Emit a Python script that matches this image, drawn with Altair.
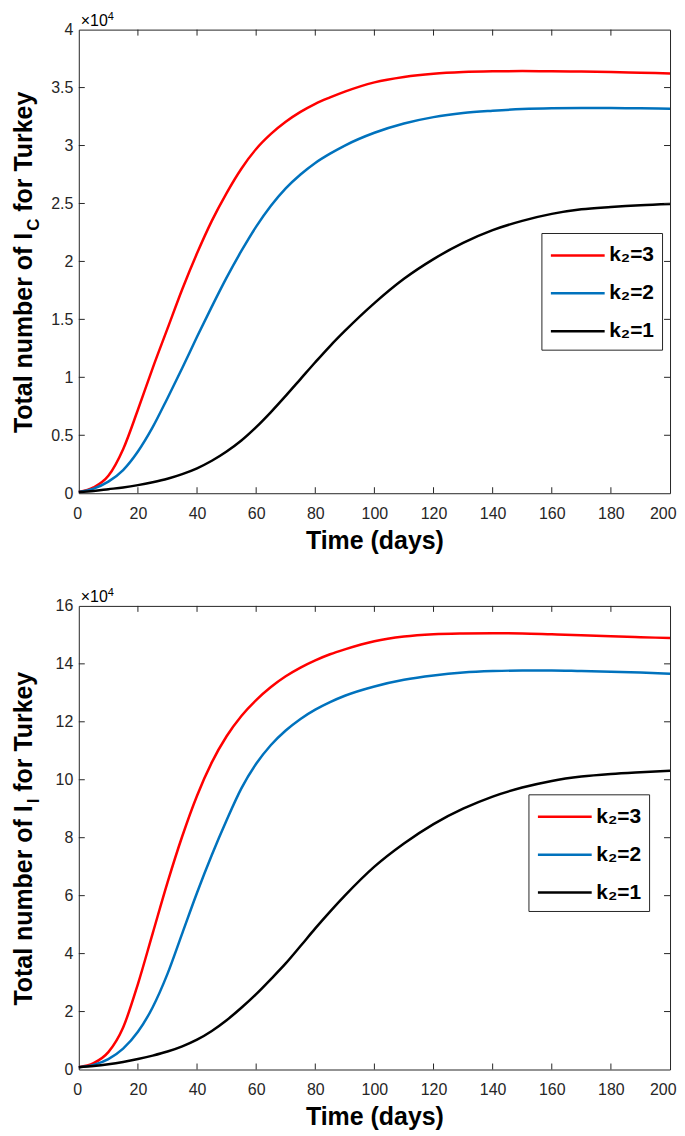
import altair as alt
import pandas as pd

# ---------------- data (values in units of 10^4) ----------------
days = [0, 5, 10, 15, 20, 25, 30, 35, 40, 45, 50, 55, 60, 65, 70, 75, 80, 85, 90,
        100, 110, 120, 130, 140, 150, 160, 170, 180, 190, 200]

series_names = ["k\u2082=3", "k\u2082=2", "k\u2082=1"]
series_colors = ["#FF0000", "#0072BD", "#000000"]

ic_k3 = [0.01, 0.05, 0.15, 0.38, 0.72, 1.08, 1.42, 1.76, 2.07, 2.35, 2.59, 2.80, 2.97, 3.10, 3.205,
         3.29, 3.36, 3.415, 3.465, 3.545, 3.592, 3.62, 3.634, 3.64, 3.642, 3.641, 3.638, 3.634, 3.628, 3.622]
ic_k2 = [0.01, 0.04, 0.10, 0.20, 0.36, 0.57, 0.82, 1.08, 1.35, 1.61, 1.86, 2.09, 2.30, 2.48, 2.63,
         2.75, 2.85, 2.93, 3.00, 3.11, 3.19, 3.245, 3.28, 3.30, 3.315, 3.322, 3.324, 3.324, 3.321, 3.317]
ic_k1 = [0.01, 0.02, 0.035, 0.05, 0.07, 0.095, 0.125, 0.165, 0.215, 0.28, 0.36, 0.455, 0.57, 0.70, 0.84,
         0.985, 1.13, 1.27, 1.40, 1.64, 1.85, 2.02, 2.16, 2.27, 2.35, 2.41, 2.45, 2.47, 2.485, 2.495]

ii_k3 = [0.08, 0.22, 0.6, 1.45, 2.95, 4.7, 6.45, 8.05, 9.45, 10.6, 11.5, 12.2, 12.75, 13.2, 13.57,
         13.87, 14.12, 14.33, 14.5, 14.78, 14.94, 15.02, 15.05, 15.06, 15.05, 15.02, 14.99, 14.95, 14.92, 14.89]
ii_k2 = [0.08, 0.16, 0.36, 0.72, 1.3, 2.15, 3.3, 4.7, 6.1, 7.4, 8.6, 9.7, 10.55, 11.2, 11.7,
         12.1, 12.42, 12.68, 12.9, 13.22, 13.45, 13.6, 13.7, 13.75, 13.77, 13.77, 13.75, 13.73, 13.7, 13.66]
ii_k1 = [0.08, 0.12, 0.18, 0.26, 0.36, 0.48, 0.62, 0.80, 1.03, 1.33, 1.7, 2.13, 2.6, 3.12, 3.66,
         4.26, 4.87, 5.45, 6.0, 7.0, 7.8, 8.47, 9.0, 9.42, 9.73, 9.96, 10.11, 10.2, 10.26, 10.31]

x_ticks = list(range(0, 201, 20))
ic_ticks = [0, 0.5, 1, 1.5, 2, 2.5, 3, 3.5, 4]
ii_ticks = list(range(0, 17, 2))

title_main = "Total number of I"
title_tail = "for Turkey"
x_title = "Time (days)"
exp_base = "\u00d710"
exp_power = "4"

# ---------------- style ----------------
W, H = 593, 465
FONT = "Liberation Sans, Arial, Helvetica, sans-serif"
AX = "#262626"
TFS = 25      # title font size
SFS = 17      # subscript size


def make_df(vals_list):
    rows = []
    for name, vals in zip(series_names, vals_list):
        for d, v in zip(days, vals):
            rows.append({"day": d, "value": v, "series": name})
    return pd.DataFrame(rows)


def text_mark(txt, x, y, size, weight="normal", angle=0, align="left"):
    return alt.Chart(pd.DataFrame({"a": [0]})).mark_text(
        text=txt, font=FONT, fontSize=size, fontWeight=weight, angle=angle,
        align=align, baseline="alphabetic", color="black"
    ).encode(x=alt.value(x), y=alt.value(y))


def panel(vals_list, ymax, yticks, yfmt, sub, sub_w, lx, ly):
    df = make_df(vals_list)
    xs = alt.Scale(domain=[0, 200], nice=False, zero=False)
    ys = alt.Scale(domain=[0, ymax], nice=False)
    xa = alt.Axis(
        values=x_ticks, format="d", tickSize=0, domain=False, grid=False,
        labelPadding=12, labelFont=FONT, labelFontSize=16, labelColor=AX,
        labelFlush=True, labelFlushOffset=6, title=x_title, titleFont=FONT,
        titleFontSize=TFS, titleFontWeight="bold", titleColor="black", titlePadding=7)
    ya = alt.Axis(
        values=yticks, format=yfmt, tickSize=0, domain=False, grid=False,
        labelPadding=6, labelFont=FONT, labelFontSize=16, labelColor=AX,
        labelFlush=False, title=None)

    lines = alt.Chart(df).mark_line(strokeWidth=2.5, interpolate="monotone").encode(
        x=alt.X("day:Q", scale=xs, axis=xa),
        y=alt.Y("value:Q", scale=ys, axis=ya),
        color=alt.Color("series:N", scale=alt.Scale(domain=series_names, range=series_colors),
                        legend=alt.Legend(
                            title=None, orient="none", legendX=lx, legendY=ly,
                            direction="vertical", symbolType="M-1,0H3.15", symbolSize=676,
                            symbolStrokeWidth=2.5, labelFont=FONT, labelFontSize=21,
                            labelFontWeight="bold", labelColor="black", labelOffset=31,
                            rowPadding=13, padding=8, strokeColor=AX, fillColor="white",
                            cornerRadius=0)),
    )

    xt = pd.DataFrame({"day": x_ticks[1:-1]})
    yt = pd.DataFrame({"value": yticks[1:-1]})
    rule = dict(color=AX, strokeWidth=1)
    tb = alt.Chart(xt).mark_rule(**rule).encode(
        x=alt.X("day:Q", scale=xs, axis=xa), y=alt.value(H), y2=alt.value(H - 6))
    tt = alt.Chart(xt).mark_rule(**rule).encode(
        x=alt.X("day:Q", scale=xs, axis=xa), y=alt.value(0), y2=alt.value(6))
    tl = alt.Chart(yt).mark_rule(**rule).encode(
        y=alt.Y("value:Q", scale=ys, axis=ya), x=alt.value(0), x2=alt.value(6))
    tr = alt.Chart(yt).mark_rule(**rule).encode(
        y=alt.Y("value:Q", scale=ys, axis=ya), x=alt.value(W), x2=alt.value(W - 6))

    # y title with subscript (Arial bold widths)
    len1 = 8.112 * TFS
    lsp = 0.278 * TFS
    len2 = 4.890 * TFS
    total = len1 + sub_w * SFS + lsp + len2
    y0 = H / 2 + total / 2
    bx = -47
    t1 = text_mark(title_main, bx, y0, TFS, "bold", 270)
    t2 = text_mark(sub, bx + 7, y0 - len1, SFS, "bold", 270)
    t3 = text_mark(title_tail, bx, y0 - len1 - sub_w * SFS - lsp, TFS, "bold", 270)

    e1 = text_mark(exp_base, 2, -4, 16)
    e2 = text_mark(exp_power, 29, -10, 11)

    return alt.layer(lines, tb, tt, tl, tr, t1, t2, t3, e1, e2).properties(width=W, height=H)


top = panel([ic_k3, ic_k2, ic_k1], 4, ic_ticks, ".1~f", "C", 0.722, 464, 204)
bottom = panel([ii_k3, ii_k2, ii_k1], 16, ii_ticks, "d", "I", 0.278, 451, 189)

chart = alt.vconcat(top, bottom, spacing=32).resolve_scale(
    x="independent", y="independent", color="independent"
).resolve_legend(color="independent").configure_view(
    stroke=AX, strokeWidth=1
).properties(padding={"left": 3, "top": 0, "right": 0, "bottom": 0}, background="white")

chart.save("out.html", embed_options={"renderer": "svg", "actions": False})
